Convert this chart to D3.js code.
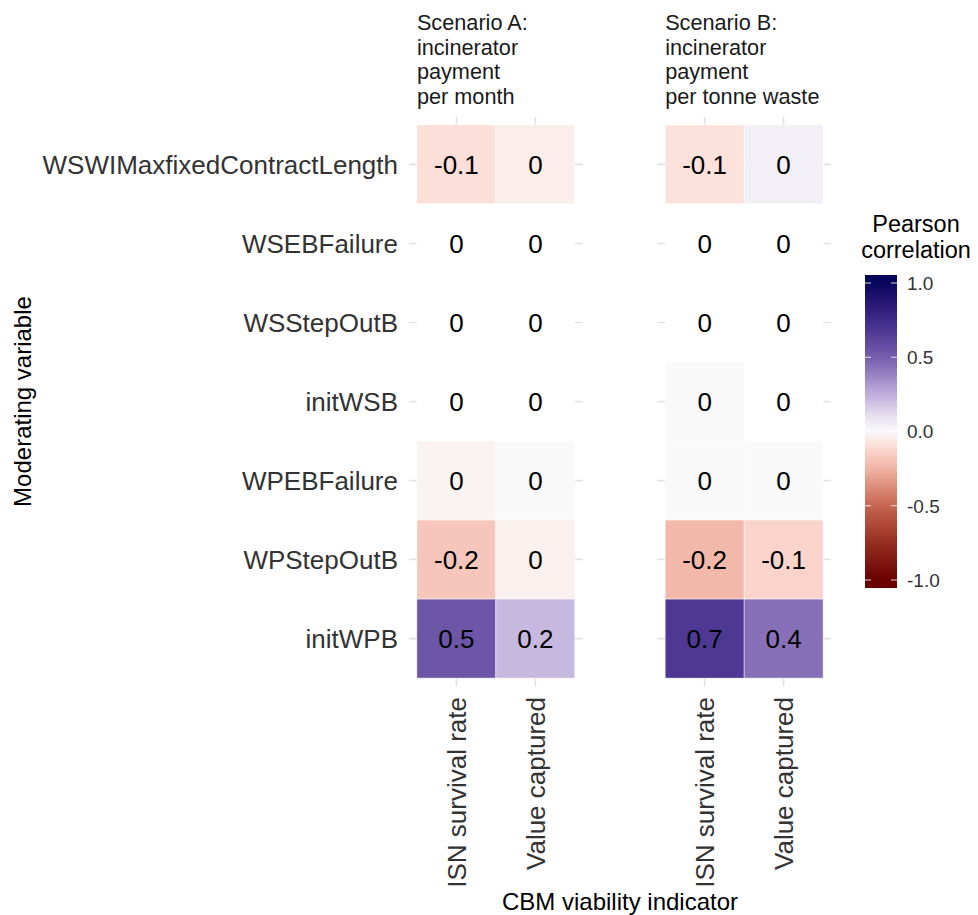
<!DOCTYPE html>
<html>
<head>
<meta charset="utf-8">
<script src="https://cdn.jsdelivr.net/npm/d3@7"></script>
<style>
  body { margin: 0; background: #fff; }
  text { font-family: "Liberation Sans", Arial, sans-serif; }
</style>
</head>
<body>
<div id="chart"></div>
<script>
// rows (moderating variables), columns (indicators), facets (scenarios)
var rows = ["WSWIMaxfixedContractLength", "WSEBFailure", "WSStepOutB", "initWSB",
            "WPEBFailure", "WPStepOutB", "initWPB"];
var indicators = ["ISN survival rate", "Value captured"];
var scenarios = [
  ["Scenario A:", "incinerator", "payment", "per month"],
  ["Scenario B:", "incinerator", "payment", "per tonne waste"]
];

// correlation values, null = no tile colour (shown as 0)
var isnA   = [-0.09, null, null, null, -0.02, -0.18, 0.54];
var valueA = [-0.04, null, null, null, 0.001, -0.03, 0.22];
var isnB   = [-0.08, null, null, 0.001, 0.001, -0.23, 0.68];
var valueB = [0.04, null, null, null, 0.001, -0.13, 0.44];

var legendTicks = [1.0, 0.5, 0.0, -0.5, -1.0];
var colorStops = [-1, -0.75, -0.5, -0.25, -0.1, 0, 0.1, 0.25, 0.5, 0.75, 1];
var colorRange = ["#680000", "#962d1f", "#c5654f", "#f0b3a3", "#fcdcd4", "#f9f9f9",
                  "#e8e1f1", "#bfaedb", "#765dae", "#3e2a88", "#07045c"];

var width = 978, height = 915;

var svg = d3.select("#chart").append("svg")
    .attr("width", width)
    .attr("height", height);

var color = d3.scaleLinear()
    .domain(colorStops)
    .range(colorRange)
    .interpolate(d3.interpolateLab)
    .clamp(true);

var fx = d3.scaleBand().domain(d3.range(scenarios.length)).range([409, 831]).paddingInner(0.3);
var x = d3.scaleBand().domain(indicators).range([0, fx.bandwidth()]).paddingOuter(0.1);
var y = d3.scaleBand().domain(rows).range([117, 686]).paddingOuter(0.1);

var data = [];
var series = [[isnA, valueA], [isnB, valueB]];
series.forEach(function(pair, s) {
    pair.forEach(function(vals, c) {
        vals.forEach(function(v, r) {
            data.push({scen: s, ind: indicators[c], row: rows[r], value: v});
        });
    });
});

function label(v) {
    if (v === null) return "0";
    var r = Math.round(v * 10) / 10;
    return (r === 0 ? 0 : r).toString();
}

var panels = svg.selectAll("g.panel")
    .data(scenarios)
    .enter().append("g")
    .attr("class", "panel")
    .attr("transform", function(d, i) { return "translate(" + fx(i) + ",0)"; });

// grid lines
panels.each(function() {
    var g = d3.select(this);
    g.selectAll("line.h").data(rows).enter().append("line")
        .attr("x1", 0).attr("x2", fx.bandwidth())
        .attr("y1", function(d) { return y(d) + y.bandwidth() / 2; })
        .attr("y2", function(d) { return y(d) + y.bandwidth() / 2; })
        .attr("stroke", "#e2e2e2").attr("stroke-width", 1.6);
    g.selectAll("line.v").data(indicators).enter().append("line")
        .attr("y1", y.range()[0]).attr("y2", y.range()[1])
        .attr("x1", function(d) { return x(d) + x.bandwidth() / 2; })
        .attr("x2", function(d) { return x(d) + x.bandwidth() / 2; })
        .attr("stroke", "#e2e2e2").attr("stroke-width", 1.6);
});

// tiles
panels.each(function(d, i) {
    var g = d3.select(this);
    var cells = data.filter(function(e) { return e.scen === i; });
    g.selectAll("rect").data(cells).enter().append("rect")
        .attr("x", function(e) { return x(e.ind); })
        .attr("y", function(e) { return y(e.row); })
        .attr("width", x.bandwidth())
        .attr("height", y.bandwidth())
        .attr("fill", function(e) { return e.value === null ? "#ffffff" : color(e.value); })
        .attr("stroke", "#ffffff")
        .attr("stroke-width", 0.5);
    g.selectAll("text.cell").data(cells).enter().append("text")
        .attr("class", "cell")
        .attr("x", function(e) { return x(e.ind) + x.bandwidth() / 2; })
        .attr("y", function(e) { return y(e.row) + y.bandwidth() / 2; })
        .attr("dy", "0.36em")
        .attr("text-anchor", "middle")
        .attr("font-size", 26)
        .attr("fill", "#000")
        .text(function(e) { return label(e.value); });

    // facet strip
    var t = g.append("text")
        .attr("x", x(indicators[0]))
        .attr("y", 30)
        .attr("font-size", 21.7)
        .attr("fill", "#1a1a1a");
    t.selectAll("tspan").data(d).enter().append("tspan")
        .attr("x", x(indicators[0]))
        .attr("dy", function(l, k) { return k === 0 ? 0 : 24.6; })
        .text(function(l) { return l; });

    // x axis labels
    g.selectAll("text.xl").data(indicators).enter().append("text")
        .attr("class", "xl")
        .attr("transform", function(e) {
            return "translate(" + (x(e) + x.bandwidth() / 2) + ",697) rotate(-90)";
        })
        .attr("dy", "0.36em")
        .attr("text-anchor", "end")
        .attr("font-size", 26)
        .attr("fill", "#333")
        .text(function(e) { return e; });
});

// y axis labels
svg.selectAll("text.yl").data(rows).enter().append("text")
    .attr("class", "yl")
    .attr("x", 398)
    .attr("y", function(d) { return y(d) + y.bandwidth() / 2; })
    .attr("dy", "0.36em")
    .attr("text-anchor", "end")
    .attr("font-size", 26)
    .attr("fill", "#333")
    .text(function(d) { return d; });

// axis titles
svg.append("text")
    .attr("x", (fx.range()[0] + fx.range()[1]) / 2)
    .attr("y", 910)
    .attr("text-anchor", "middle")
    .attr("font-size", 24)
    .attr("fill", "#000")
    .text("CBM viability indicator");

svg.append("text")
    .attr("transform", "translate(31," + (y.range()[0] + y.range()[1]) / 2 + ") rotate(-90)")
    .attr("text-anchor", "middle")
    .attr("font-size", 24)
    .attr("fill", "#000")
    .text("Moderating variable");

// legend
var ly = d3.scaleLinear().domain([-1, 1]).range([580, 283]);
var barX = 865, barW = 32, barTop = 275, barBot = 588;

var grad = svg.append("defs").append("linearGradient")
    .attr("id", "grad")
    .attr("x1", 0).attr("x2", 0).attr("y1", 1).attr("y2", 0);
d3.range(0, 1.0001, 0.02).forEach(function(t) {
    var v = ly.invert(barBot - t * (barBot - barTop));
    grad.append("stop").attr("offset", t).attr("stop-color", color(v));
});

svg.append("rect")
    .attr("x", barX).attr("y", barTop)
    .attr("width", barW).attr("height", barBot - barTop)
    .attr("fill", "url(#grad)");

legendTicks.forEach(function(v) {
    svg.append("line")
        .attr("x1", barX).attr("x2", barX + 6)
        .attr("y1", ly(v)).attr("y2", ly(v))
        .attr("stroke", "#fff").attr("stroke-opacity", 0.8).attr("stroke-width", 1);
    svg.append("line")
        .attr("x1", barX + barW - 6).attr("x2", barX + barW)
        .attr("y1", ly(v)).attr("y2", ly(v))
        .attr("stroke", "#fff").attr("stroke-opacity", 0.8).attr("stroke-width", 1);
});

svg.selectAll("text.lt").data(legendTicks).enter().append("text")
    .attr("class", "lt")
    .attr("x", 907)
    .attr("y", function(d) { return ly(d); })
    .attr("dy", "0.36em")
    .attr("font-size", 19)
    .attr("fill", "#333")
    .text(function(d) { return d.toFixed(1); });

var lt = svg.append("text")
    .attr("x", 916)
    .attr("y", 232)
    .attr("text-anchor", "middle")
    .attr("font-size", 23.5)
    .attr("fill", "#000");
lt.append("tspan").attr("x", 916).text("Pearson");
lt.append("tspan").attr("x", 916).attr("dy", 26).text("correlation");
</script>
</body>
</html>
